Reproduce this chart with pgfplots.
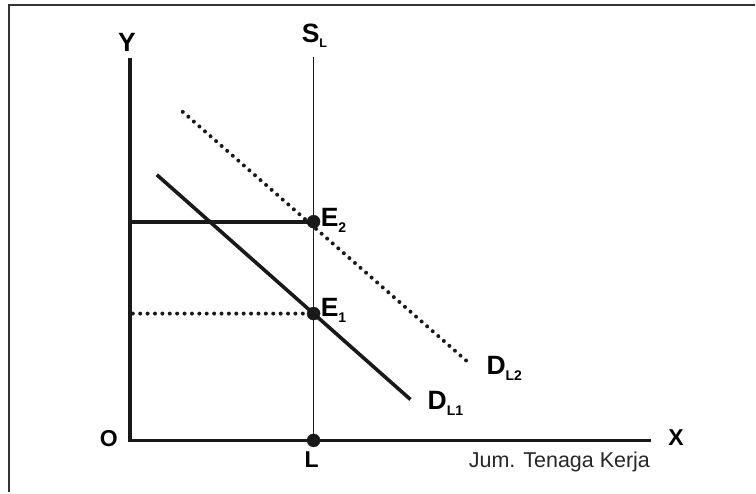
\documentclass[border=0pt]{standalone}
\usepackage{pgfplots}
\pgfplotsset{compat=1.18}
\usepackage{fontspec}
\setmainfont{Liberation Sans}
\newcommand{\chBigLab}[1]{{\fontsize{26.5}{26.5}\selectfont\bfseries #1}}
\newcommand{\chMidLab}[1]{{\fontsize{23}{23}\selectfont\bfseries #1}}
\newcommand{\chSubLab}[1]{\raisebox{-6pt}{\fontsize{14}{14}\selectfont\bfseries #1}}
\begin{document}
\begin{tikzpicture}
\begin{axis}[scale only axis, width=756pt, height=493pt,
  xmin=0, xmax=756, ymin=0, ymax=493, y dir=reverse,
  hide axis, clip=false]
\addplot[draw=none] coordinates {(0,0)(756,493)};
% border
\addplot[color=black!80, line width=2pt] coordinates {(9,493)(9,5)(756,5)};
% axes
\addplot[black!90, line width=3.6pt] coordinates {(130,58)(130,441)(652,441)};
% S_L
\addplot[black!90, line width=1.5pt] coordinates {(314,57)(314,441)};
% D_L1
\addplot[black!90, line width=3.6pt] coordinates {(157,175)(411,400)};
% D_L2 dotted
\addplot[black!90, line width=4pt, line cap=round, dash pattern=on 0pt off 7.4pt] coordinates {(183,112)(469,363)};
% E2 horizontal
\addplot[black!90, line width=3.6pt] coordinates {(130,222)(314,222)};
% E1 dotted
\addplot[black!90, line width=4pt, line cap=round, dash pattern=on 0pt off 7.4pt] coordinates {(133,314)(314,314)};
% points
\addplot[only marks, mark=*, mark size=6.5pt, black!90] coordinates {(314,222)(314,314)(314,441)};
% labels
\node[anchor=base, inner sep=0] at (axis cs:127,52) {\chBigLab{Y}};
\node[anchor=base west, inner sep=0] at (axis cs:302,43) {\chBigLab{S}\raisebox{-5pt}{\fontsize{12.5}{12.5}\selectfont\bfseries L}};
\node[anchor=base west, inner sep=0] at (axis cs:321,227) {\chBigLab{E}\chSubLab{2}};
\node[anchor=base west, inner sep=0] at (axis cs:321,317) {\chBigLab{E}\chSubLab{1}};
\node[anchor=base west, inner sep=0] at (axis cs:487,375) {\chBigLab{D}\chSubLab{L2}};
\node[anchor=base west, inner sep=0] at (axis cs:428,410) {\chBigLab{D}\chSubLab{L1}};
\node[anchor=base, inner sep=0] at (axis cs:109,447) {\chMidLab{O}};
\node[anchor=base, inner sep=0] at (axis cs:677,446) {\chMidLab{X}};
\node[anchor=base, inner sep=0] at (axis cs:312,468) {\chMidLab{L}};
\node[anchor=base east, inner sep=0] at (axis cs:651,468) {\fontsize{21.5}{21.5}\selectfont\color{black!85}Jum. Tenaga Kerja};
\end{axis}
\end{tikzpicture}
\end{document}
